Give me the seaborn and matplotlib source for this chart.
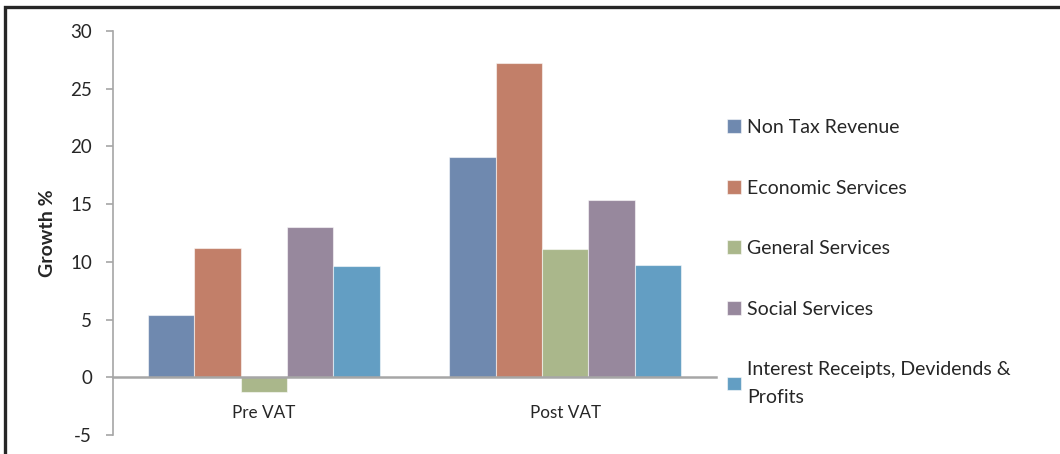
import matplotlib
matplotlib.use("Agg")
import matplotlib.pyplot as plt
from matplotlib.patches import Rectangle
import pandas as pd
import seaborn as sns

periods = ["Pre VAT", "Post VAT"]
series = [
    "Non Tax Revenue",
    "Economic Services",
    "General Services",
    "Social Services",
    "Interest Receipts, Devidends & Profits",
]
pre_vat = [5.4, 11.2, -1.3, 13.0, 9.6]
post_vat = [19.1, 27.2, 11.1, 15.4, 9.7]
yticks = [-5, 0, 5, 10, 15, 20, 25, 30]
colors = ["#6F89AF", "#C27F69", "#AAB78B", "#97889D", "#639EC3"]

rows = []
for name, a, b in zip(series, pre_vat, post_vat):
    rows.append({"Period": periods[0], "Series": name, "Growth": a})
    rows.append({"Period": periods[1], "Series": name, "Growth": b})
df = pd.DataFrame(rows)

sns.set_style("white")
plt.rcParams["font.family"] = ["Lato", "DejaVu Sans"]

fig = plt.figure(figsize=(10.6, 4.54), dpi=100)
ax = fig.add_axes([113 / 1060, 1 - 435 / 454, (716 - 113) / 1060, (435 - 31) / 454])

sns.barplot(
    data=df, x="Period", y="Growth", hue="Series", order=periods,
    hue_order=series, palette=colors, width=0.77, ax=ax,
    edgecolor=(1, 1, 1, 0.55), linewidth=0.8, saturation=1,
)

ax.set_ylim(-5, 30)
ax.set_xlim(-0.5, 1.5)
ax.set_yticks(yticks)
ax.set_yticklabels([str(t) for t in yticks])

axis_grey = "#A6A6A6"
for side in ["top", "right"]:
    ax.spines[side].set_visible(False)
ax.spines["left"].set_color(axis_grey)
ax.spines["left"].set_linewidth(1.2)
ax.spines["bottom"].set_position(("data", 0))
ax.spines["bottom"].set_color(axis_grey)
ax.spines["bottom"].set_linewidth(1.8)
ax.spines["bottom"].set_zorder(5)

ax.tick_params(axis="y", direction="out", length=5, width=1.2, color=axis_grey,
               labelsize=13.5, labelcolor="#262626", pad=10, left=True)
ax.tick_params(axis="x", length=0, labelsize=12.3, labelcolor="#262626", pad=20)

ax.set_xlabel("")
ax.set_ylabel("Growth %", fontsize=14, fontweight="bold", color="#262626", labelpad=10)

handles, _ = ax.get_legend_handles_labels()
labels = series[:-1] + ["Interest Receipts, Devidends &\nProfits"]
leg = ax.legend(
    handles, labels, loc="upper left", bbox_to_anchor=(727 / 1060, 1 - 119 / 454),
    bbox_transform=fig.transFigure, frameon=False, fontsize=14,
    handlelength=0.7, handleheight=0.7, handletextpad=0.35,
    labelspacing=2.24, borderaxespad=0, borderpad=0,
)
for t in leg.get_texts():
    t.set_color("#262626")
    t.set_linespacing(1.75)

fig.patches.append(Rectangle(
    (5 / 1060, -0.5), 2.0, 1.5 - 7 / 454, transform=fig.transFigure,
    fill=False, edgecolor="#262626", linewidth=2.4, clip_on=False,
))

fig.savefig("out.png", dpi=100, facecolor="white")
